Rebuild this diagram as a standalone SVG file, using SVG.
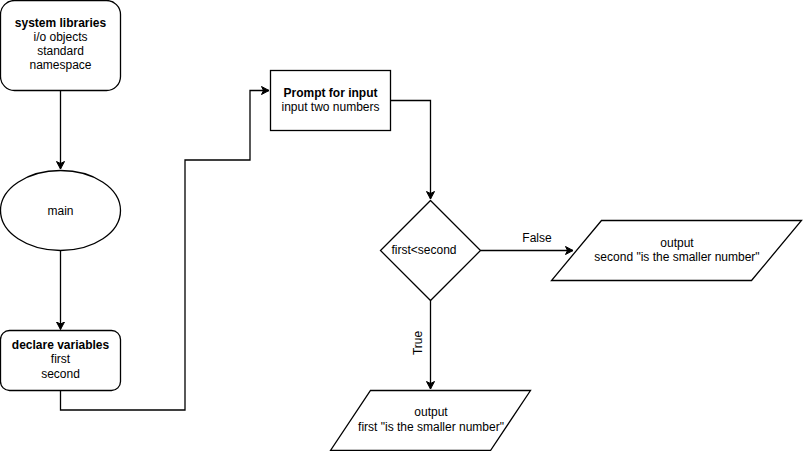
<svg xmlns="http://www.w3.org/2000/svg" width="803" height="451" viewBox="0 0 803 451">
<defs>
<marker id="arr" markerWidth="10" markerHeight="10" refX="8" refY="5" orient="auto" markerUnits="userSpaceOnUse">
<path d="M0.5,1 L8,5 L0.5,9 L2.5,5 Z" fill="#000" stroke="#000" stroke-width="1"/>
</marker>
</defs>
<style>
.s{fill:#fff;stroke:#000;stroke-width:1.3}
.t{font-family:"Liberation Sans",Arial,Helvetica,sans-serif;font-size:12px;fill:#000;text-anchor:middle}
.b{font-weight:bold}
.c{fill:none;stroke:#000;stroke-width:1.3}
</style>
<rect width="803" height="451" fill="#fff"/>
<g id="connectors">
<path class="c" d="M60.5,90.5 L60.5,169" marker-end="url(#arr)"/>
<path class="c" d="M60.5,250.5 L60.5,329.5" marker-end="url(#arr)"/>
<path class="c" d="M60.5,390.5 L60.5,410 L185,410 L185,160 L250,160 L250,90.5 L269,90.5" marker-end="url(#arr)"/>
<path class="c" d="M390.5,100.5 L430.5,100.5 L430.5,199" marker-end="url(#arr)"/>
<path class="c" d="M480.5,250.5 L573,250.5" marker-end="url(#arr)"/>
<path class="c" d="M430.5,300.5 L430.5,389" marker-end="url(#arr)"/>
<text class="t" x="537" y="242">False</text>
<text class="t" transform="translate(422,343) rotate(-90)">True</text>
</g>
<g id="sys">
<rect class="s" x="0.5" y="0.5" width="120" height="90" rx="14" ry="14"/>
<text class="t b" x="60.5" y="27">system libraries</text>
<text class="t" x="60.5" y="41">i/o objects</text>
<text class="t" x="60.5" y="55">standard</text>
<text class="t" x="60.5" y="69">namespace</text>
</g>
<g id="main">
<ellipse class="s" cx="60.5" cy="210.5" rx="60" ry="40"/>
<text class="t" x="60.5" y="215">main</text>
</g>
<g id="declare">
<rect class="s" x="0.5" y="330.5" width="120" height="60" rx="9" ry="9"/>
<text class="t b" x="60.5" y="349">declare variables</text>
<text class="t" x="60.5" y="363">first</text>
<text class="t" x="60.5" y="378">second</text>
</g>
<g id="prompt">
<rect class="s" x="270.5" y="70.5" width="120" height="60"/>
<text class="t b" x="330.5" y="97">Prompt for input</text>
<text class="t" x="330.5" y="111">input two numbers</text>
</g>
<g id="decision">
<path class="s" d="M430.5,200.5 L480.5,250.5 L430.5,300.5 L380.5,250.5 Z" stroke-width="2"/>
<text class="t" x="424" y="254">first&lt;second</text>
</g>
<g id="outFalse">
<path class="s" d="M601.5,220.5 L801.5,220.5 L751.5,280.5 L551.5,280.5 Z"/>
<text class="t" x="677" y="247">output</text>
<text class="t" x="677" y="261">second "is the smaller number"</text>
</g>
<g id="outTrue">
<path class="s" d="M370.5,390.5 L530.5,390.5 L490.5,450.5 L330.5,450.5 Z"/>
<text class="t" x="431" y="416">output</text>
<text class="t" x="431" y="431">first "is the smaller number"</text>
</g>
</svg>
